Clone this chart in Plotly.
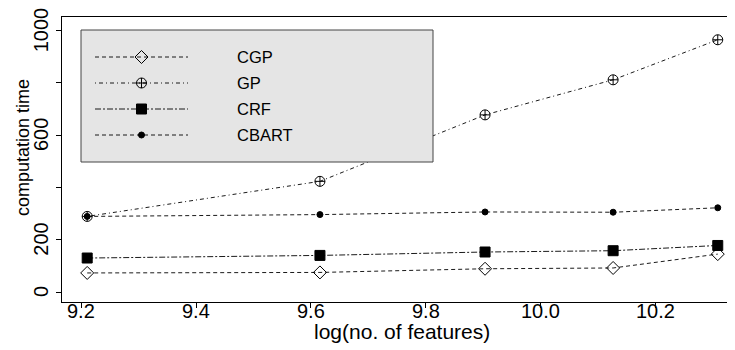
import plotly.graph_objects as go

# ---------------- data ----------------
x_vals = [9.2103, 9.6158, 9.9035, 10.1266, 10.3089]   # log(no. of features)
cgp = [73, 75, 89, 92, 145]
gp = [289, 423, 677, 811, 964]
crf = [130, 140, 153, 158, 178]
cbart = [289, 296, 306, 305, 322]
series_names = ["CGP", "GP", "CRF", "CBART"]

x_tickvals = [9.2, 9.4, 9.6, 9.8, 10.0, 10.2]
x_ticktext = ["9.2", "9.4", "9.6", "9.8", "10.0", "10.2"]
y_tickvals = [0, 200, 400, 600, 800, 1000]
y_ticktext = ["0", "200", "", "600", "", "1000"]

# ---------------- geometry ----------------
# the page body adds an 8px offset, so figure margins are set 8px smaller
OFF = 8
W, H = 735, 350
S_LEFT, S_TOP, S_BOTTOM = 62, 17, 302          # plot box on screen
L, T = S_LEFT - OFF, S_TOP - OFF
B = H - (S_BOTTOM - OFF)
R = 0
S_RIGHT = W - R + OFF                            # right edge (cut off on screen)
FONT = "Liberation Sans, Arial, Helvetica, sans-serif"

def sx(p):   # screen x px -> paper
    return (p - S_LEFT) / (S_RIGHT - S_LEFT)

def sy(p):   # screen y px -> paper
    return (S_BOTTOM - p) / (S_BOTTOM - S_TOP)

styles = {
    "CGP":   dict(dash="4px,3px", symbol="diamond-open", size=10, lw=0.9),
    "GP":    dict(dash="1px,3px,4px,3px", symbol="circle-cross-open", size=10, lw=0.9),
    "CRF":   dict(dash="6px,2px,2px,2px", symbol="square", size=10, lw=0.9),
    "CBART": dict(dash="4px,3px", symbol="circle", size=6, lw=0.9),
}
values = {"CGP": cgp, "GP": gp, "CRF": crf, "CBART": cbart}

fig = go.Figure()

for name in series_names:
    st = styles[name]
    fig.add_trace(go.Scatter(
        x=x_vals, y=values[name], mode="lines+markers", name=name,
        line=dict(color="black", width=st["lw"], dash=st["dash"]),
        marker=dict(symbol=st["symbol"], size=st["size"], color="black",
                    line=dict(color="black", width=1)),
        showlegend=False, cliponaxis=False,
    ))

# ---------------- custom legend (screen-pixel overlay axes) ----------------
leg_x0, leg_x1, leg_y0, leg_y1 = 81, 433, 30, 162
fig.add_trace(go.Scatter(
    x=[leg_x0, leg_x1, leg_x1, leg_x0, leg_x0],
    y=[leg_y0, leg_y0, leg_y1, leg_y1, leg_y0],
    mode="lines", fill="toself", fillcolor="#e5e5e5",
    line=dict(color="#444444", width=1),
    xaxis="x2", yaxis="y2", showlegend=False, hoverinfo="skip",
))
rows = [57, 83, 109, 135]
seg_x0, seg_x1, mk_x, txt_x = 95, 188, 141.5, 235
for name, ry in zip(series_names, rows):
    st = styles[name]
    fig.add_trace(go.Scatter(
        x=[seg_x0, seg_x1], y=[ry, ry], mode="lines",
        line=dict(color="black", width=st["lw"], dash=st["dash"]),
        xaxis="x2", yaxis="y2", showlegend=False, hoverinfo="skip",
    ))
    fig.add_trace(go.Scatter(
        x=[mk_x], y=[ry], mode="markers",
        marker=dict(symbol=st["symbol"], size=st["size"], color="black",
                    line=dict(color="black", width=1)),
        xaxis="x2", yaxis="y2", showlegend=False, hoverinfo="skip",
    ))
    fig.add_annotation(x=txt_x, y=ry, xref="x2", yref="y2", text=name,
                       showarrow=False, xanchor="left", yanchor="middle",
                       font=dict(family=FONT, size=16.5, color="black"))

# ---------------- tick labels ----------------
for v, t in zip(x_tickvals, x_ticktext):
    fig.add_annotation(x=v, y=sy(311), xref="x", yref="paper", text=t,
                       showarrow=False, xanchor="center", yanchor="middle",
                       font=dict(family=FONT, size=20, color="black"))
for v, t in zip(y_tickvals, y_ticktext):
    if t:
        fig.add_annotation(x=sx(41), y=v, xref="paper", yref="y", text=t,
                           textangle=-90, showarrow=False,
                           xanchor="center", yanchor="middle",
                           font=dict(family=FONT, size=20, color="black"))

# ---------------- axis titles ----------------
fig.add_annotation(x=sx(402), y=sy(332), xref="paper", yref="paper",
                   text="log(no. of features)", showarrow=False,
                   xanchor="center", yanchor="middle",
                   font=dict(family=FONT, size=21, color="black"))
fig.add_annotation(x=sx(23), y=sy(148), xref="paper", yref="paper",
                   text="computation time", textangle=-90, showarrow=False,
                   xanchor="center", yanchor="middle",
                   font=dict(family=FONT, size=18, color="black"))

fig.update_layout(
    width=W, height=H,
    margin=dict(l=L, r=R, t=T, b=B, pad=0),
    paper_bgcolor="white", plot_bgcolor="white",
    font=dict(family=FONT, size=18, color="black"),
    xaxis=dict(range=[9.1664, 10.3529], tickvals=x_tickvals,
               showticklabels=False,
               showgrid=False, zeroline=False, showline=True, linecolor="black",
               linewidth=1, mirror=True, ticks="outside", ticklen=5,
               tickcolor="black", tickwidth=1),
    yaxis=dict(range=[-38, 1051], tickvals=y_tickvals, showticklabels=False,
               showgrid=False, zeroline=False, showline=True, linecolor="black",
               linewidth=1, mirror=False, ticks="outside", ticklen=5,
               tickcolor="black", tickwidth=1),
    xaxis2=dict(range=[S_LEFT, S_RIGHT], overlaying="x", anchor="y2",
                visible=False, showgrid=False, zeroline=False),
    yaxis2=dict(range=[S_BOTTOM, S_TOP], overlaying="y", anchor="x2",
                visible=False, showgrid=False, zeroline=False),
)

fig.write_html("out.html")
